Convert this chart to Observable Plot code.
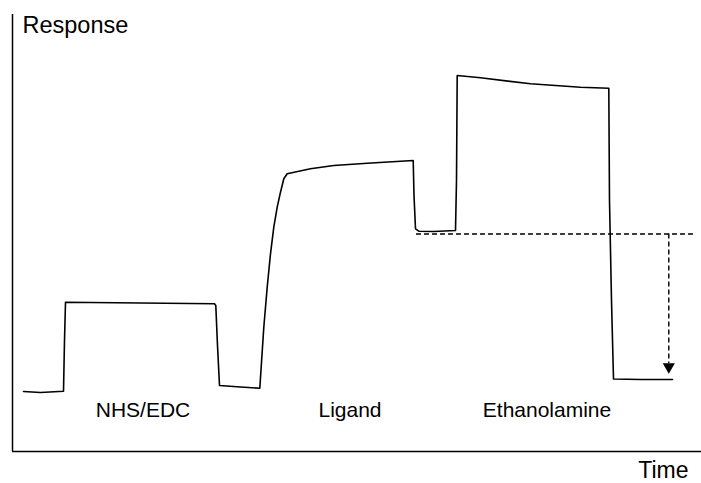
<!DOCTYPE html>
<html>
<head>
<meta charset="utf-8">
<script src="https://cdn.jsdelivr.net/npm/d3@7"></script>
<script src="https://cdn.jsdelivr.net/npm/@observablehq/plot@0.6"></script>
<style>
  html, body { margin: 0; padding: 0; background: #fff; }
  #chart svg { display: block; }
</style>
</head>
<body>
<div id="chart"></div>
<script>
// Sensorgram (schematic), arbitrary units
const time = [11, 28, 51, 52, 53, 128, 202, 203.3, 205, 207, 228, 247.3, 251.3, 254.7, 258, 261.3, 264.7, 268, 271.3, 274.7, 298, 321.3, 354.7, 400.7, 401.5, 403, 406.3, 421.3, 443, 444, 444.7, 468, 518, 568, 596.3, 597, 599, 601, 628, 660];
const response = [60, 59, 60.3, 111, 149.3, 148.5, 147.7, 146, 106, 66, 64.5, 63.3, 124.3, 164.3, 197.7, 224.3, 244.3, 259.3, 272.7, 277.7, 282.7, 286, 288.3, 291, 256, 222.7, 220.3, 220, 221, 271, 376, 373.7, 367.7, 364.3, 363.3, 251, 151, 72.5, 72, 72];

const phases = ["NHS/EDC", "Ligand", "Ethanolamine"];
const phaseMidTime = [130.5, 337.5, 534.5];

const immobilizedLevel = 217.5;      // dashed reference level
const levelStart = 404, levelEnd = 681;
const dropTime = 656.3;              // dashed arrow position
const finalLevel = 77.7;             // arrow tip

const axisLabels = {y: "Response", x: "Time"};

const curve = time.map((t, i) => ({t, r: response[i]}));
const labels = phases.map((p, i) => ({p, t: phaseMidTime[i]}));

const font = "'Liberation Sans', Arial, Helvetica, sans-serif";

const chart = Plot.plot({
  width: 701,
  height: 483,
  marginLeft: 12,
  marginRight: 0,
  marginTop: 14,
  marginBottom: 32,
  x: {domain: [0, 689], axis: null},
  y: {domain: [0, 437], axis: null},
  style: {fontFamily: font, background: "#fff", color: "#000"},
  marks: [
    Plot.ruleX([0], {stroke: "#000", strokeWidth: 1.5}),
    Plot.ruleY([0], {stroke: "#000", strokeWidth: 1.5}),
    Plot.line(curve, {x: "t", y: "r", stroke: "#000", strokeWidth: 1.6, strokeLinejoin: "round"}),
    Plot.ruleY([immobilizedLevel], {x1: levelStart, x2: levelEnd, stroke: "#000", strokeWidth: 1.4, strokeDasharray: "5,3"}),
    Plot.ruleX([dropTime], {y1: immobilizedLevel, y2: finalLevel + 10, stroke: "#000", strokeWidth: 1.4, strokeDasharray: "5,3"}),
    Plot.dot([{t: dropTime, r: finalLevel}], {x: "t", y: "r", symbol: "triangle", rotate: 180, r: 4.5, fill: "#000", stroke: "none", dy: -7}),
    Plot.text(labels, {x: "t", frameAnchor: "bottom", text: "p", dy: -35, lineAnchor: "bottom", fontSize: 21, fill: "#000"}),
    Plot.text([axisLabels.y], {frameAnchor: "top-left", text: d => d, textAnchor: "start", lineAnchor: "bottom", dx: 10, dy: 18, fontSize: 23.5, fill: "#000"}),
    Plot.text([axisLabels.x], {frameAnchor: "bottom-right", text: d => d, textAnchor: "end", lineAnchor: "bottom", dx: -13, dy: 26, fontSize: 23, fill: "#000"})
  ]
});
document.getElementById("chart").appendChild(chart);
</script>
</body>
</html>
